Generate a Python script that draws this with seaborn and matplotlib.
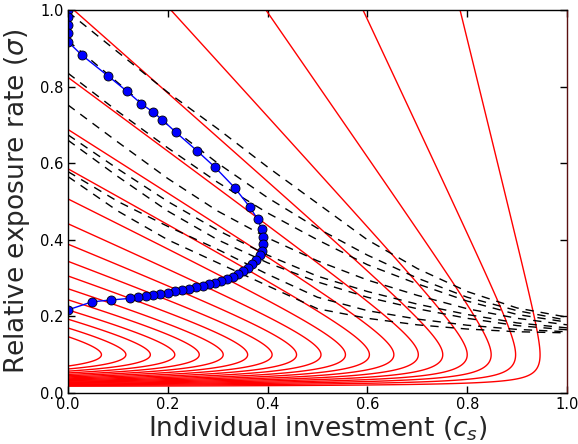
import numpy as np
import pandas as pd
import matplotlib
matplotlib.use("Agg")
import matplotlib.pyplot as plt
import seaborn as sns

# ---------------- data ----------------
# blue optimum curve (markers)
blue_c = [0.0, 0.0, 0.0, 0.0, 0.0, 0.0275, 0.080, 0.118, 0.147, 0.171, 0.189, 0.216,
          0.258, 0.295, 0.334, 0.364, 0.380, 0.388, 0.390, 0.390, 0.388, 0.384, 0.377,
          0.369, 0.361, 0.351, 0.341, 0.331, 0.319, 0.307, 0.295, 0.283, 0.270, 0.257,
          0.243, 0.229, 0.214, 0.200, 0.185, 0.171, 0.156, 0.141, 0.1245, 0.087, 0.048, 0.0]
blue_s = [1.0, 0.981, 0.960, 0.939, 0.917, 0.8825, 0.828, 0.788, 0.755, 0.733, 0.713, 0.681,
          0.633, 0.589, 0.536, 0.486, 0.454, 0.427, 0.407, 0.388, 0.372, 0.360, 0.347,
          0.337, 0.327, 0.319, 0.311, 0.304, 0.298, 0.293, 0.288, 0.285, 0.280, 0.276,
          0.272, 0.269, 0.266, 0.262, 0.258, 0.255, 0.252, 0.250, 0.247, 0.243, 0.238, 0.217]

# dashed constraint curves (read at these investment values)
dash_c = [0.0, 0.1, 0.2, 0.3, 0.4, 0.5, 0.6, 0.7, 0.8, 0.9, 1.0]
dash_1 = [0.995, 0.89, 0.785, 0.69, 0.59, 0.495, 0.40, 0.325, 0.265, 0.222, 0.198]
dash_2 = [0.92, 0.81, 0.70, 0.60, 0.51, 0.43, 0.36, 0.30, 0.25, 0.215, 0.19]
dash_3 = [0.835, 0.735, 0.64, 0.55, 0.47, 0.40, 0.335, 0.285, 0.24, 0.205, 0.185]
dash_4 = [0.752, 0.655, 0.56, 0.475, 0.405, 0.345, 0.295, 0.255, 0.22, 0.195, 0.178]
dash_5 = [0.674, 0.585, 0.50, 0.425, 0.36, 0.305, 0.265, 0.232, 0.205, 0.183, 0.170]
dash_6 = [0.66, 0.565, 0.475, 0.40, 0.34, 0.29, 0.25, 0.22, 0.195, 0.176, 0.165]
dash_7 = [0.578, 0.50, 0.435, 0.375, 0.31, 0.25, 0.215, 0.193, 0.177, 0.166, 0.160]
dash_8 = [0.565, 0.475, 0.40, 0.34, 0.28, 0.22, 0.195, 0.178, 0.167, 0.160, 0.157]
dash_curves = [dash_1, dash_2, dash_3, dash_4, dash_5, dash_6, dash_7, dash_8]

# payoff iso-lines: levels and the relative sigma-profile
red_levels = [0.054, 0.103, 0.152, 0.200, 0.249, 0.298, 0.347, 0.396, 0.444, 0.493,
              0.542, 0.591, 0.640, 0.689, 0.737, 0.786, 0.835, 0.884, 0.933]
peak_sigma = 0.10      # sigma where the iso-lines turn back
upper_a, upper_b = 0.554, 0.491
floor_sigma, floor_width = 0.015, 0.008

xticks = [0.0, 0.2, 0.4, 0.6, 0.8, 1.0]
yticks = [0.0, 0.2, 0.4, 0.6, 0.8, 1.0]

# ---------------- figure ----------------
sns.set_style("white")
plt.rcParams["font.family"] = ["DejaVu Sans"]
plt.rcParams["mathtext.fontset"] = "dejavusans"

fig = plt.figure(figsize=(5.78, 4.44), dpi=100)
ax = fig.add_axes([68 / 578, 1 - 393 / 444, (567 - 68) / 578, (393 - 10) / 444])

cg = np.linspace(0, 1, 700)
sg = np.concatenate([np.linspace(0.005, 0.12, 1500), np.linspace(0.1201, 1.0, 900)])
C, S = np.meshgrid(cg, sg)
T = np.log(S / peak_sigma)
U_up = np.exp(-upper_a * T ** 2 / (1 + upper_b * np.clip(T, 0, None)))
U_lo = np.exp(-upper_a * T ** 2) * (1 - np.exp(-(S - floor_sigma) / floor_width))
U = np.where(T >= 0, U_up, U_lo)
Z = (1 - C) * U
ax.contour(C, S, Z, levels=red_levels, colors="#ff0000", linewidths=1.0)

for d in dash_curves:
    sns.lineplot(x=dash_c, y=d, ax=ax, color="black", linewidth=1.0,
                 dashes=False, sort=False, estimator=None)
for ln in ax.lines:
    ln.set_dashes([6, 5])

df = pd.DataFrame({"c": blue_c, "s": blue_s})
sns.lineplot(data=df, x="c", y="s", ax=ax, color="#0000ff", linewidth=1.0, sort=False,
             estimator=None, marker="o", markersize=6.5, markerfacecolor="#0000ff",
             markeredgecolor="black", markeredgewidth=0.6)

ax.set_xlim(0, 1)
ax.set_ylim(0, 1)
ax.set_xticks(xticks)
ax.set_yticks(yticks)
ax.set_xticklabels([f"{v:.1f}" for v in xticks])
ax.set_yticklabels([f"{v:.1f}" for v in yticks])
ax.tick_params(direction="in", length=5, width=1, labelsize=10.5, top=True, right=True,
               bottom=True, left=True, colors="black", pad=3)
for sp in ax.spines.values():
    sp.set_color("black")
    sp.set_linewidth(1.0)
ax.spines["right"].set_color("#5a1010")
ax.set_xlabel(r"Individual investment ($c_s$)", fontsize=19, labelpad=2)
ax.set_ylabel(r"Relative exposure rate ($\sigma$)", fontsize=19, labelpad=6)
fig.savefig("out.png", dpi=100)
